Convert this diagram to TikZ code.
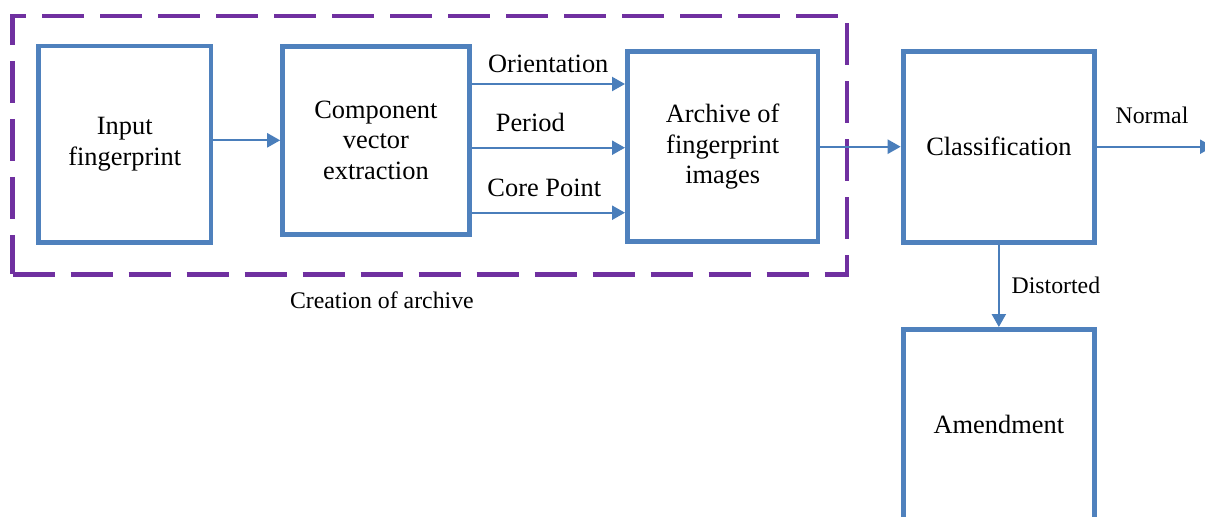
\documentclass[tikz,border=0pt]{standalone}
\usepackage{fontspec}
\setmainfont{Liberation Serif}
\usetikzlibrary{arrows.meta,positioning}
\definecolor{boxblue}{HTML}{4F81BD}
\definecolor{lineblue}{HTML}{4A7EBB}
\definecolor{archpurple}{HTML}{7030A0}

\begin{document}
\begin{tikzpicture}[x=0.5pt,y=-0.5pt,>={Triangle[length=6.5pt,width=7pt]},
                    font=\fontsize{13.2}{15.4}\selectfont]
\tikzstyle{block}=[draw=boxblue,line width=2.4pt,fill=white,align=center,inner sep=2pt]
\tikzstyle{flow}=[->,draw=lineblue,line width=1.15pt]
\tikzstyle{lbl}=[inner sep=0pt]
\tikzstyle{small}=[inner sep=0pt,font=\fontsize{11.9}{14}\selectfont]
\useasboundingbox (0,0) rectangle (1205,516);
\clip (0,0) rectangle (1205,516);
% creation of archive
\node[draw=archpurple,line width=2.25pt,dash pattern=on 21pt off 8pt,outer sep=0pt,
      minimum width=417.2pt,minimum height=129.2pt] (group) at (429.9,145.2) {};
\node[small,anchor=base] (creation) at ([xshift=-24pt,yshift=-16.85pt]group.south) {Creation of archive};
% blocks
\node[block,minimum width=86.25pt,minimum height=98.3pt] (input) at (124.75,144.2) {Input\\fingerprint};
\node[block,minimum width=93.3pt,minimum height=93.9pt] (comp) [right=33.4pt of input,yshift=1.95pt] {Component\\vector\\extraction};
\node[block,minimum width=95.25pt,minimum height=94.85pt] (arch) [right=76.7pt of comp,yshift=-3.2pt] {Archive of\\fingerprint\\images};
\node[block,minimum width=95.75pt,minimum height=95.5pt] (class) [right=40.2pt of arch] {Classification};
\node[block,minimum width=95.75pt,minimum height=95.5pt] (amend) [below=41.2pt of class] {Amendment};
% components
\coordinate (orient) at ([yshift=28.15pt]comp.east);
\coordinate (period) at ([yshift=-3.7pt]comp.east);
\coordinate (core) at ([yshift=-36.2pt]comp.east);
\coordinate (out) at ([xshift=58pt]class.east);
\draw[flow] (input.east |- comp.west) -- (comp.west);
\draw[flow] (orient) -- (orient -| arch.west) node[lbl,midway,above=5.3pt] {Orientation};
\draw[flow] (period) -- (period -| arch.west) node[lbl,midway,above=7.3pt,xshift=-9pt] {Period};
\draw[flow] (core) -- (core -| arch.west) node[lbl,midway,above=7.2pt,xshift=-2pt] {Core Point};
\draw[flow] (arch.east |- class.west) -- (class.west);
\draw[flow] (class) -- (out) node[small,midway,above=11pt,xshift=-1.5pt] {Normal};
\draw[flow] (class) -- (amend) node[small,midway,right=5.8pt] {Distorted};

\end{tikzpicture}
\end{document}
